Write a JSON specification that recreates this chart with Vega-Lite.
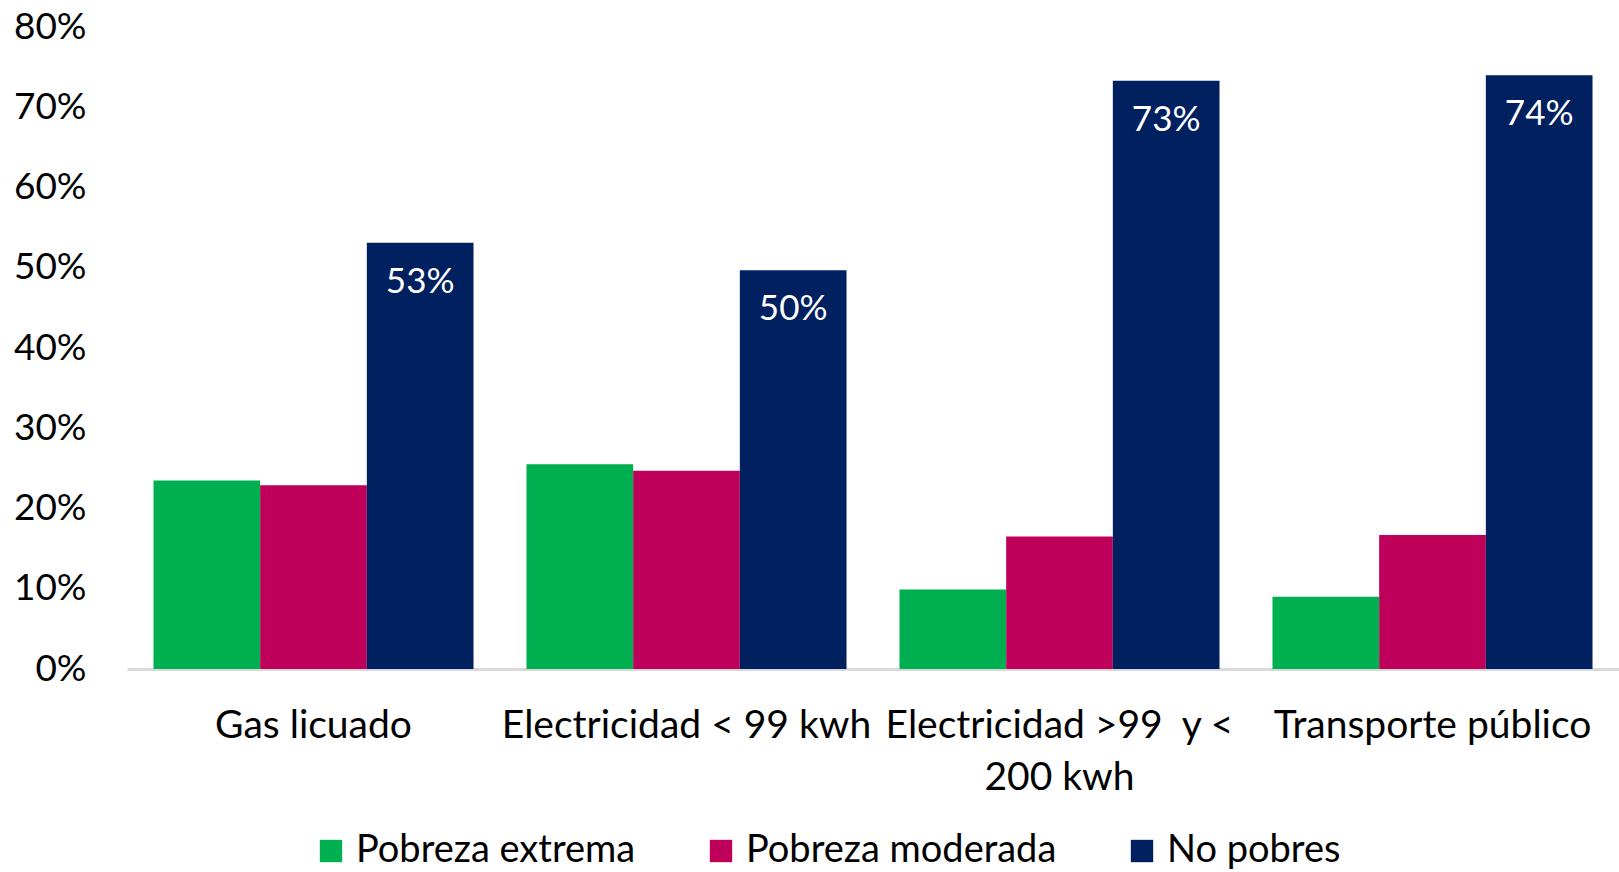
{
  "$schema": "https://vega.github.io/schema/vega-lite/v6.json",
  "width": 1492,
  "height": 642,
  "autosize": "none",
  "padding": {"left": 127, "top": 27, "right": 0, "bottom": 203},
  "background": "white",
  "config": {
    "view": {"stroke": null},
    "font": "Lato",
    "axis": {"labelFont": "Lato", "labelColor": "#000000", "grid": false, "title": null},
    "legend": {"labelFont": "Lato"}
  },
  "data": {
    "values": [
      {"categoria": "Gas licuado", "grupo": "Pobreza extrema", "valor": 0.235},
      {"categoria": "Gas licuado", "grupo": "Pobreza moderada", "valor": 0.229},
      {"categoria": "Gas licuado", "grupo": "No pobres", "valor": 0.531},
      {"categoria": "Electricidad < 99 kwh", "grupo": "Pobreza extrema", "valor": 0.255},
      {"categoria": "Electricidad < 99 kwh", "grupo": "Pobreza moderada", "valor": 0.247},
      {"categoria": "Electricidad < 99 kwh", "grupo": "No pobres", "valor": 0.497},
      {"categoria": "Electricidad >99  y < 200 kwh", "grupo": "Pobreza extrema", "valor": 0.099},
      {"categoria": "Electricidad >99  y < 200 kwh", "grupo": "Pobreza moderada", "valor": 0.165},
      {"categoria": "Electricidad >99  y < 200 kwh", "grupo": "No pobres", "valor": 0.733},
      {"categoria": "Transporte público", "grupo": "Pobreza extrema", "valor": 0.090},
      {"categoria": "Transporte público", "grupo": "Pobreza moderada", "valor": 0.167},
      {"categoria": "Transporte público", "grupo": "No pobres", "valor": 0.740}
    ]
  },
  "encoding": {
    "x": {
      "field": "categoria",
      "type": "nominal",
      "sort": ["Gas licuado", "Electricidad < 99 kwh", "Electricidad >99  y < 200 kwh", "Transporte público"],
      "scale": {"paddingInner": 0.142, "paddingOuter": 0.071},
      "axis": {
        "labelAngle": 0,
        "labelFontSize": 39,
        "labelPadding": 56,
        "labelLineHeight": 52,
        "labelBaseline": "middle",
        "labelLimit": 600,
        "ticks": false,
        "domainColor": "#d9d9d9",
        "domainWidth": 3,
        "labelExpr": "datum.label == 'Electricidad >99  y < 200 kwh' ? ['Electricidad >99\u00a0 y <', '200 kwh'] : datum.label"
      }
    },
    "xOffset": {
      "field": "grupo",
      "type": "nominal",
      "sort": ["Pobreza extrema", "Pobreza moderada", "No pobres"],
      "scale": {"paddingInner": 0, "paddingOuter": 0}
    },
    "y": {
      "field": "valor",
      "type": "quantitative",
      "scale": {"domain": [0, 0.8], "nice": false},
      "axis": {
        "format": ".0%",
        "values": [0, 0.1, 0.2, 0.3, 0.4, 0.5, 0.6, 0.7, 0.8],
        "labelFontSize": 37,
        "labelPadding": 41,
        "ticks": false,
        "domain": false
      }
    }
  },
  "layer": [
    {
      "mark": {"type": "bar"},
      "encoding": {
        "color": {
          "field": "grupo",
          "type": "nominal",
          "sort": ["Pobreza extrema", "Pobreza moderada", "No pobres"],
          "scale": {
            "domain": ["Pobreza extrema", "Pobreza moderada", "No pobres"],
            "range": ["#00B050", "#BE005A", "#002060"]
          },
          "legend": {
            "title": null,
            "orient": "none",
            "direction": "horizontal",
            "legendX": 185,
            "legendY": 805,
            "symbolType": "square",
            "symbolSize": 500,
            "symbolStrokeWidth": 0,
            "symbolOpacity": 1,
            "labelFontSize": 38,
            "labelColor": "#000000",
            "labelOffset": 6,
            "columnPadding": 66,
            "labelLimit": 500
          }
        }
      }
    },
    {
      "transform": [{"filter": "datum.grupo == 'No pobres'"}],
      "mark": {"type": "text", "color": "white", "fontSize": 35, "baseline": "middle", "dy": 39},
      "encoding": {
        "text": {"field": "valor", "type": "quantitative", "format": ".0%"}
      }
    }
  ]
}
